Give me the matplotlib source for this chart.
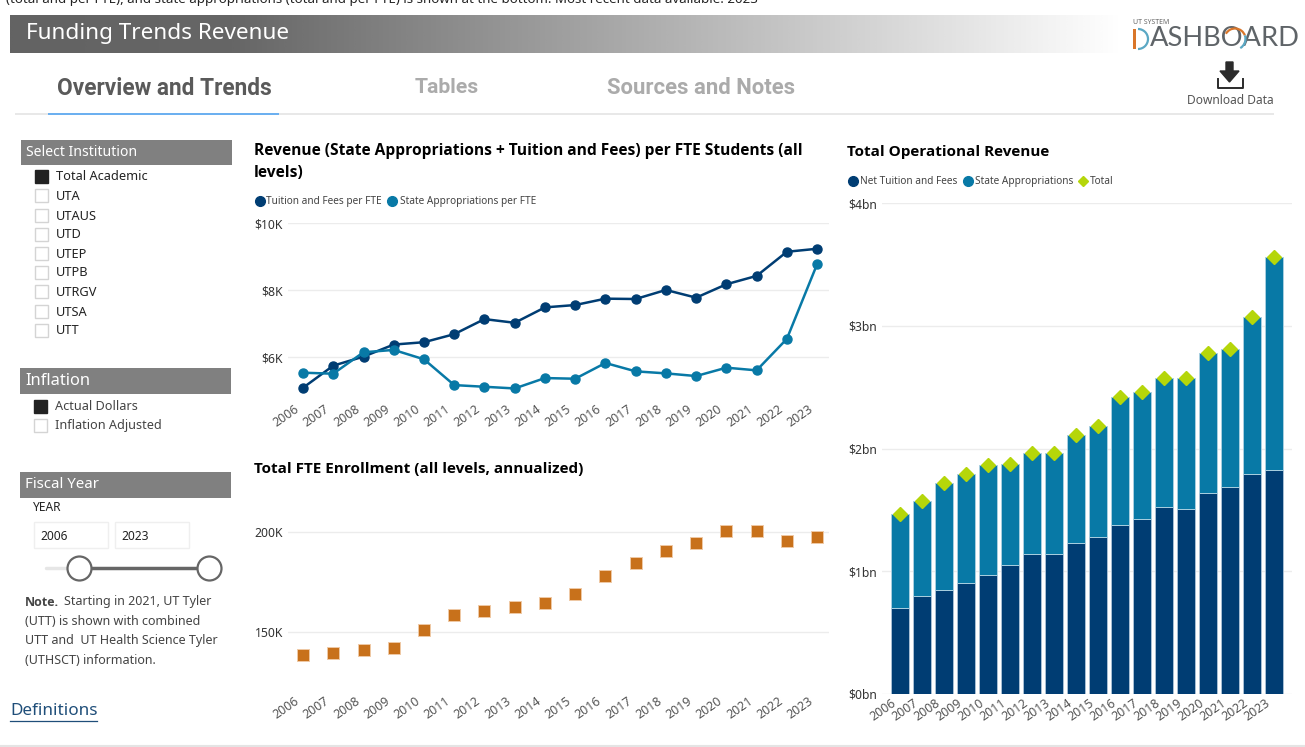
import numpy as np
import matplotlib
matplotlib.use("Agg")
import matplotlib.pyplot as plt
from matplotlib.colors import LinearSegmentedColormap
from matplotlib.patches import Arc, Circle, Polygon, Rectangle
from matplotlib.transforms import ScaledTranslation

plt.rcParams["font.family"] = ["Noto Sans", "DejaVu Sans"]

W, H = 1305, 747

years = [str(y) for y in range(2006, 2024)]

# per FTE, $K
tuition_per_fte = [5.09, 5.75, 6.02, 6.38, 6.45, 6.69, 7.14, 7.03, 7.49,
                   7.56, 7.75, 7.74, 8.01, 7.78, 8.18, 8.43, 9.15, 9.24]
state_per_fte = [5.54, 5.51, 6.15, 6.22, 5.94, 5.17, 5.12, 5.07, 5.38,
                 5.36, 5.83, 5.58, 5.52, 5.44, 5.69, 5.61, 6.55, 8.78]

# FTE enrollment, thousands
enrollment = [138.5, 139.8, 141.2, 142.2, 151.0, 158.5, 160.7, 162.8, 164.8,
              169.2, 178.2, 184.8, 190.8, 194.5, 200.5, 200.5, 195.8, 197.8]

# operational revenue, $bn
net_tuition = [0.701, 0.799, 0.848, 0.905, 0.970, 1.052, 1.141, 1.141, 1.231,
               1.277, 1.378, 1.427, 1.524, 1.508, 1.639, 1.688, 1.791, 1.826]
state_approp = [0.766, 0.769, 0.867, 0.883, 0.894, 0.820, 0.824, 0.824, 0.883,
                0.908, 1.038, 1.032, 1.055, 1.063, 1.141, 1.124, 1.280, 1.734]
total_revenue = [1.467, 1.568, 1.715, 1.788, 1.864, 1.872, 1.965, 1.965, 2.114,
                 2.185, 2.416, 2.459, 2.579, 2.571, 2.780, 2.812, 3.071, 3.560]

institutions = ["Total Academic", "UTA", "UTAUS", "UTD", "UTEP", "UTPB", "UTRGV", "UTSA", "UTT"]
institution_y = [176, 195, 215, 234, 253, 272, 291, 311, 330]
inflation_opts = ["Actual Dollars", "Inflation Adjusted"]
inflation_y = [406, 425]
note_lines = ["(UTT) is shown with combined", "UTT and  UT Health Science Tyler", "(UTHSCT) information."]

NAVY = "#003d73"
TEAL = "#0879a6"
ORANGE = "#c8711b"
LIME = "#b5d60a"
GRID = "#ececec"
BOLD = "Open Sans"


def px_axes(fig, left, top, right, bottom):
    return fig.add_axes([left / W, 1 - bottom / H, (right - left) / W, (bottom - top) / H])


def txt(ax, x, y, s, px, color="#222222", weight="normal", family=None, **kw):
    if family is not None:
        kw["family"] = family
    return ax.text(x, y + 1.5, s, fontsize=px * 0.72, color=color, fontweight=weight,
                   va=kw.pop("va", "center"), **kw)


def draw_panel(ax):
    ax.set_xlim(0, W)
    ax.set_ylim(H, 0)
    ax.axis("off")

    txt(ax, 6, -2.5, "(total and per FTE), and state appropriations (total and per FTE) is shown at the bottom. "
                     "Most recent data available: 2023", 13.3)

    # banner
    cmap = LinearSegmentedColormap.from_list("banner", [(0, "#636363"), (0.2, "#666666"), (1, "#ffffff")])
    ax.imshow(np.linspace(0, 1, 512).reshape(1, -1), cmap=cmap, aspect="auto", extent=(10, 1121, 53, 15))
    ax.set_xlim(0, W)
    ax.set_ylim(H, 0)
    txt(ax, 26, 32, "Funding Trends Revenue", 22.5, color="white")

    # logo
    txt(ax, 1133, 21, "UT SYSTEM", 7, color="#666666")
    txt(ax, 1150, 37.5, "ASHBOARD", 27.2, color="#5f6468", family="Lato")
    ax.add_patch(Rectangle((1133, 29), 3, 20, color="#d9762a", lw=0, zorder=5))
    ax.add_patch(Arc((1138, 39), 20, 20, theta1=-90, theta2=90, color="#5ba8c4", lw=1.6, zorder=5))
    ax.add_patch(Arc((1235, 39), 21, 21, theta1=-150, theta2=-20, color="#d9762a", lw=1.6, zorder=5))
    ax.add_patch(Arc((1235, 39), 21, 21, theta1=-20, theta2=60, color="#5ba8c4", lw=1.6, zorder=5))

    # download icon
    ax.add_patch(Polygon([(1226, 62), (1233, 62), (1233, 71), (1239, 71), (1229.5, 82), (1220, 71), (1226, 71)],
                         color="#2b2b2b"))
    ax.plot([1217.5, 1217.5, 1242.5, 1242.5], [79, 87.5, 87.5, 79], color="#2b2b2b", lw=1.4)
    txt(ax, 1230.5, 99.5, "Download Data", 12, color="#555555", ha="center")

    # tabs
    txt(ax, 57, 87, "Overview and Trends", 22.6, color="#5a5a5a", weight="bold", family="Roboto")
    txt(ax, 415, 86, "Tables", 21.2, color="#ababab", weight="bold", family="Roboto")
    txt(ax, 607, 87, "Sources and Notes", 22.2, color="#ababab", weight="bold", family="Roboto")
    ax.add_patch(Rectangle((15, 113), 1259, 2, color="#e8e8e8", lw=0))
    ax.add_patch(Rectangle((48, 113), 231, 2, color="#6cb0f0", lw=0))

    # side panel
    for x0, y0, y1, label, lx, px in [(21, 140, 165, "Select Institution", 26, 14),
                                      (20, 368, 394, "Inflation", 25, 16.5),
                                      (20, 472, 498, "Fiscal Year", 25, 15)]:
        ax.add_patch(Rectangle((x0, y0), 211, y1 - y0, color="#808080", lw=0))
        txt(ax, lx, (y0 + y1) / 2 - 1.5, label, px, color="white")

    for i, (name, y) in enumerate(zip(institutions, institution_y)):
        checked = i == 0
        ax.add_patch(Rectangle((34.5, y - 6.5), 13, 13, facecolor="#222222" if checked else "white",
                               edgecolor="#222222" if checked else "#d4d4d4", lw=1))
        txt(ax, 56, y - 0.5, name, 12.8)
    for i, (name, y) in enumerate(zip(inflation_opts, inflation_y)):
        checked = i == 0
        ax.add_patch(Rectangle((33.5, y - 6.5), 13, 13, facecolor="#222222" if checked else "white",
                               edgecolor="#222222" if checked else "#d4d4d4", lw=1))
        txt(ax, 55, y - 0.5, name, 12.7, color="#444444")

    # slider
    txt(ax, 33, 506, "YEAR", 12)
    for x0, label in [(33.5, "2006"), (114.5, "2023")]:
        ax.add_patch(Rectangle((x0, 522), 74.5, 25.5, facecolor="white", edgecolor="#efefef", lw=1))
        txt(ax, x0 + 7, 534.5, label, 12)
    ax.plot([46, 79], [568, 568], color="#e6e6e6", lw=2.5, solid_capstyle="round")
    ax.plot([79, 210], [568, 568], color="#666666", lw=2.5)
    for cx in (79.5, 209.5):
        ax.add_patch(Circle((cx, 568.5), 12, facecolor="white", edgecolor="#666666", lw=1.6, zorder=4))

    # note
    txt(ax, 25, 600.5, "Note.", 12.5, color="#444444", weight="bold", family=BOLD)
    txt(ax, 64, 600.5, "Starting in 2021, UT Tyler", 12.5, color="#444444")
    for y, line in zip([620, 639, 658.5], note_lines):
        txt(ax, 25, y, line, 12.5, color="#444444")

    txt(ax, 10, 709.5, "Definitions", 17.1, color="#1f4e79")
    ax.plot([10, 97], [720.5, 720.5], color="#1f4e79", lw=0.9)
    ax.plot([0, W], [746, 746], color="#e4e4e4", lw=1.5)

    # chart titles
    txt(ax, 254, 149.5, "Revenue (State Appropriations + Tuition and Fees) per FTE Students (all",
        15.5, color="black", weight="bold", family=BOLD)
    txt(ax, 254, 171.5, "levels)", 15.5, color="black", weight="bold", family=BOLD)
    txt(ax, 254, 467.5, "Total FTE Enrollment (all levels, annualized)", 15.3, color="black", weight="bold", family=BOLD)
    txt(ax, 847, 150.5, "Total Operational Revenue", 15.2, color="black", weight="bold", family=BOLD)

    # legends
    for x, y, label, lx, c, m in [(260, 201, "Tuition and Fees per FTE", 266, NAVY, "o"),
                                  (392, 201, "State Appropriations per FTE", 400, TEAL, "o"),
                                  (853, 181, "Net Tuition and Fees", 860, NAVY, "o"),
                                  (968, 181, "State Appropriations", 975, TEAL, "o"),
                                  (1083, 181, "Total", 1090, LIME, "D")]:
        ax.plot([x], [y], marker=m, color=c, ms=7 if m == "o" else 5, ls="none")
        txt(ax, lx, y - 1, label, 10.1, color="#444444")


def style_axes(fig, ax, yticks, ylabels, shift=-9):
    ax.patch.set_alpha(0)
    for s in ax.spines.values():
        s.set_visible(False)
    ax.set_yticks(yticks)
    ax.set_yticklabels(ylabels, fontsize=8.8, color="#333333")
    ax.set_xticks(range(len(years)))
    ax.set_xticklabels(years, rotation=35, ha="right", rotation_mode="anchor", fontsize=9, color="#555555")
    ax.tick_params(axis="both", length=0)
    ax.tick_params(axis="x", pad=2)
    ax.grid(axis="y", color=GRID, lw=1)
    ax.set_axisbelow(True)
    # the labels sit left of their ticks
    offset = ScaledTranslation(shift / 100, 0, fig.dpi_scale_trans)
    for label in ax.get_xticklabels():
        label.set_transform(label.get_transform() + offset)


fig = plt.figure(figsize=(W / 100, H / 100), dpi=100)
panel = fig.add_axes([0, 0, 1, 1])
draw_panel(panel)

# revenue per FTE
ax1 = px_axes(fig, 287.9, 223.3, 829.2, 400)
ax1.plot(range(18), tuition_per_fte, color=NAVY, lw=1.8, marker="o", ms=6.5, clip_on=False)
ax1.plot(range(18), state_per_fte, color=TEAL, lw=1.8, marker="o", ms=6.5, clip_on=False)
ax1.set_xlim(-0.5, 17.4)
ax1.set_ylim(4.725, 10)
style_axes(fig, ax1, [6, 8, 10], ["$6K", "$8K", "$10K"])

# enrollment
ax2 = px_axes(fig, 287.9, 525, 829.2, 692)
ax2.plot(range(18), enrollment, ls="none", marker="s", ms=8.2, color=ORANGE, mec="#efc9a5", mew=0.7, clip_on=False)
ax2.set_xlim(-0.5, 17.4)
ax2.set_ylim(120.15, 203.65)
style_axes(fig, ax2, [150, 200], ["150K", "200K"])

# operational revenue
ax3 = px_axes(fig, 882, 203.3, 1292, 693.7)
ax3.bar(range(18), net_tuition, width=0.8, color=NAVY, edgecolor="#a9c0d4", lw=0.7)
ax3.bar(range(18), state_approp, bottom=net_tuition, width=0.8, color=TEAL, edgecolor="#a9cfe0", lw=0.7)
ax3.plot(range(18), total_revenue, ls="none", marker="D", ms=7, color=LIME, clip_on=False)
ax3.set_xlim(-0.82, 17.82)
ax3.set_ylim(0, 4)
style_axes(fig, ax3, [0, 1, 2, 3, 4], ["$0bn", "$1bn", "$2bn", "$3bn", "$4bn"])

fig.savefig("out.png", dpi=100)
